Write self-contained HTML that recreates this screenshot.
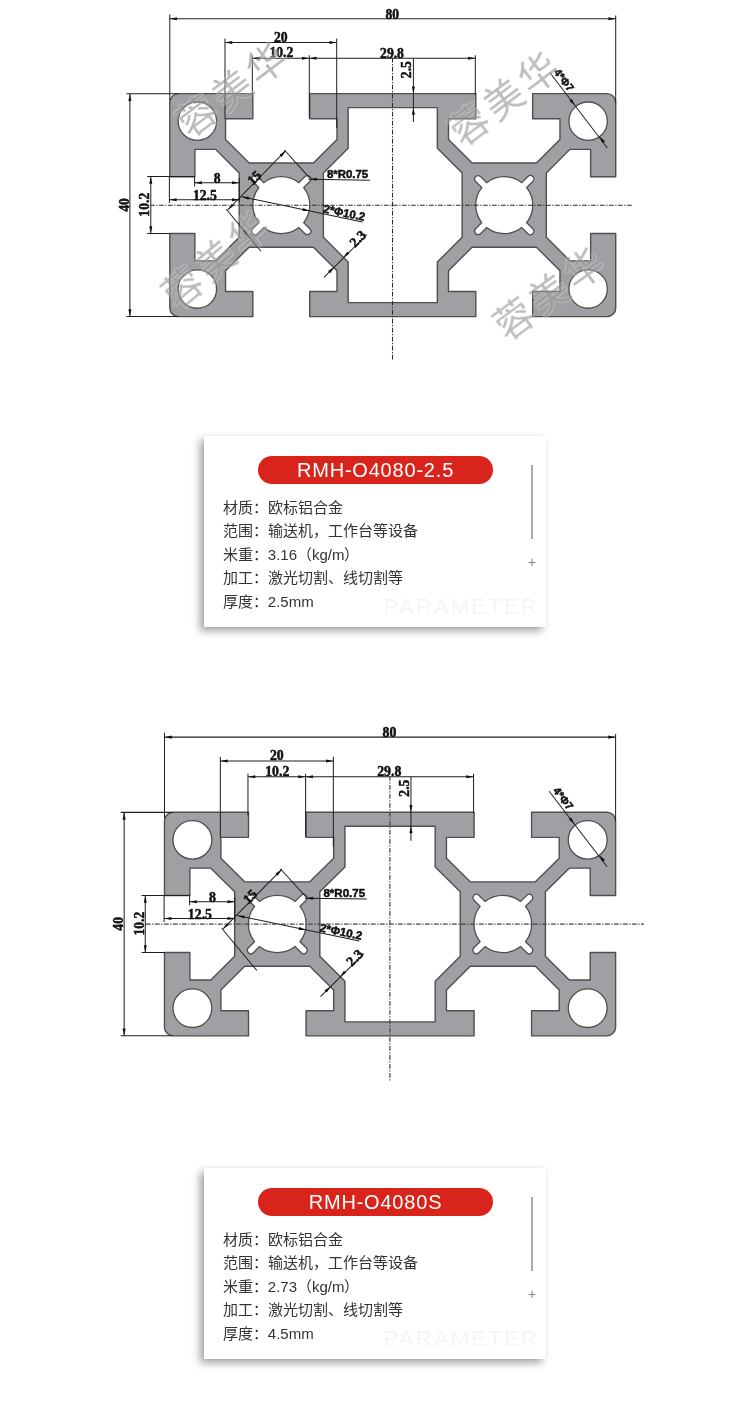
<!DOCTYPE html><html lang="zh-CN"><head><meta charset="utf-8"><style>
html,body{margin:0;padding:0;background:#fff;}
body{width:750px;height:1424px;position:relative;overflow:hidden;font-family:"Liberation Sans",sans-serif;}
svg.main{position:absolute;left:0;top:0;will-change:transform;}
.card{will-change:transform;}
.card{position:absolute;left:204px;width:342px;height:191px;background:#fff;box-shadow:-4px 4px 8px rgba(0,0,0,0.36),0 0 3px rgba(0,0,0,0.06);}
.pill{position:absolute;left:54px;top:20px;width:235px;height:28px;border-radius:14px;background:#d9241b;color:#fff;font-size:20px;line-height:28px;text-align:center;letter-spacing:0.8px;}
.rows{position:absolute;left:18.8px;top:59.7px;font-size:15px;line-height:23.55px;color:#333;}
.vline{position:absolute;left:327px;top:29px;width:2px;height:74px;background:#aaa;}
.plus{position:absolute;left:324px;top:119px;font-size:14px;color:#888;line-height:14px;}
.wm{position:absolute;left:179.5px;top:158px;font-size:22.5px;color:#f5f5f5;line-height:26px;letter-spacing:1.9px;}
</style></head><body><svg class="main" width="750" height="1424" viewBox="0 0 750 1424"><defs><g id="drw"><path d="M-38.45,-20L-25.1,-20L-25.1,-15.5L-30,-15.5L-30,-11.78L-25.77,-7.55L-14.23,-7.55L-10,-11.78L-10,-15.5L-14.9,-15.5L-14.9,-20L14.9,-20L14.9,-15.5L10,-15.5L10,-11.78L14.23,-7.55L25.77,-7.55L30,-11.78L30,-15.5L25.1,-15.5L25.1,-20L38.45,-20A1.55,1.55 0 0 1 40,-18.45L40,-5.1L35.5,-5.1L35.5,-10L31.78,-10L27.55,-5.77L27.55,5.77L31.78,10L35.5,10L35.5,5.1L40,5.1L40,18.45A1.55,1.55 0 0 1 38.45,20L25.1,20L25.1,15.5L30,15.5L30,11.78L25.77,7.55L14.23,7.55L10,11.78L10,15.5L14.9,15.5L14.9,20L-14.9,20L-14.9,15.5L-10,15.5L-10,11.78L-14.23,7.55L-25.77,7.55L-30,11.78L-30,15.5L-25.1,15.5L-25.1,20L-38.45,20A1.55,1.55 0 0 1 -40,18.45L-40,5.1L-35.5,5.1L-35.5,10L-31.78,10L-27.55,5.77L-27.55,-5.77L-31.78,-10L-35.5,-10L-35.5,-5.1L-40,-5.1L-40,-18.45A1.55,1.55 0 0 1 -38.45,-20ZM-8,-17.5 L8,-17.5 L8,-10.22 L12.45,-5.77 L12.45,5.77 L8,10.22 L8,17.5 L-8,17.5 L-8,10.22 L-12.45,5.77 L-12.45,-5.77 L-8,-10.22Z" fill="#9fa0a3" fill-rule="evenodd" stroke="#4f4f51" stroke-width="1.4" vector-effect="non-scaling-stroke" stroke-linejoin="round"/><g fill="#fff" stroke="#4f4f51" stroke-width="1.3"><circle cx="-35.05" cy="-15.05" r="3.45" vector-effect="non-scaling-stroke"/><circle cx="-35.05" cy="15.05" r="3.45" vector-effect="non-scaling-stroke"/><circle cx="35.05" cy="-15.05" r="3.45" vector-effect="non-scaling-stroke"/><circle cx="35.05" cy="15.05" r="3.45" vector-effect="non-scaling-stroke"/><path d="M-15.968,3.155L-14.873,4.25A0.62,0.62 0 0 1 -15.75,5.127L-16.845,4.032A5.12,5.12 0 0 1 -23.155,4.032L-24.25,5.127A0.62,0.62 0 0 1 -25.127,4.25L-24.032,3.155A5.12,5.12 0 0 1 -24.032,-3.155L-25.127,-4.25A0.62,0.62 0 0 1 -24.25,-5.127L-23.155,-4.032A5.12,5.12 0 0 1 -16.845,-4.032L-15.75,-5.127A0.62,0.62 0 0 1 -14.873,-4.25L-15.968,-3.155A5.12,5.12 0 0 1 -15.968,3.155 Z" vector-effect="non-scaling-stroke"/><path d="M24.032,3.155L25.127,4.25A0.62,0.62 0 0 1 24.25,5.127L23.155,4.032A5.12,5.12 0 0 1 16.845,4.032L15.75,5.127A0.62,0.62 0 0 1 14.873,4.25L15.968,3.155A5.12,5.12 0 0 1 15.968,-3.155L14.873,-4.25A0.62,0.62 0 0 1 15.75,-5.127L16.845,-4.032A5.12,5.12 0 0 1 23.155,-4.032L24.25,-5.127A0.62,0.62 0 0 1 25.127,-4.25L24.032,-3.155A5.12,5.12 0 0 1 24.032,3.155 Z" vector-effect="non-scaling-stroke"/></g><g stroke="#1e1e1e" stroke-width="0.18" fill="none"><line x1="-39.998" y1="-33.427" x2="39.998" y2="-33.427"/><line x1="-39.998" y1="-34.216" x2="-39.998" y2="-18.859"/><line x1="39.998" y1="-34.001" x2="39.998" y2="-18.321"/><line x1="-30.095" y1="-29.175" x2="-10.056" y2="-29.175"/><line x1="-30.095" y1="-29.91" x2="-30.095" y2="-15.45"/><line x1="-10.056" y1="-29.91" x2="-10.056" y2="-13.836"/><line x1="-25.197" y1="-26.34" x2="14.81" y2="-26.34"/><line x1="-25.197" y1="-26.878" x2="-25.197" y2="-19.397"/><line x1="-14.971" y1="-26.878" x2="-14.971" y2="-15.63"/><line x1="14.81" y1="-26.878" x2="14.81" y2="-19.756"/><line x1="3.705" y1="-26.358" x2="3.705" y2="-14.894"/><line x1="-47.156" y1="-19.971" x2="-47.156" y2="19.982"/><line x1="-47.766" y1="-19.971" x2="-38.527" y2="-19.971"/><line x1="-47.766" y1="19.982" x2="-38.527" y2="19.982"/><line x1="-43.407" y1="-5.117" x2="-43.407" y2="5.091"/><line x1="-44.053" y1="-5.117" x2="-35.549" y2="-5.117"/><line x1="-44.053" y1="5.091" x2="-39.962" y2="5.091"/><line x1="-35.549" y1="-4.004" x2="-27.53" y2="-4.004"/><line x1="-35.549" y1="-5.117" x2="-35.549" y2="-3.341"/><line x1="-27.53" y1="-4.776" x2="-27.53" y2="-0.47"/><line x1="-40.07" y1="-0.972" x2="-27.53" y2="-0.972"/><line x1="-40.07" y1="-5.117" x2="-40.07" y2="-0.38"/><line x1="-19.205" y1="-9.763" x2="-29.611" y2="0.875"/><line x1="-19.456" y1="-9.889" x2="-14.792" y2="-4.74"/><line x1="-29.862" y1="0.75" x2="-23.637" y2="8.285"/><line x1="-15.115" y1="-4.632" x2="-4.099" y2="-4.471"/><line x1="-27.099" y1="-1.511" x2="-5.445" y2="3.046"/><line x1="-4.638" y1="5.271" x2="-12.334" y2="12.967"/><line x1="28.211" y1="-23.757" x2="38.491" y2="-10.248"/></g><g fill="#111"><polygon points="-39.998,-33.427 -38.698,-33.697 -38.698,-33.157"/><polygon points="39.998,-33.427 38.698,-33.157 38.698,-33.697"/><polygon points="-30.095,-29.175 -28.795,-29.445 -28.795,-28.905"/><polygon points="-10.056,-29.175 -11.356,-28.905 -11.356,-29.445"/><polygon points="-25.197,-26.34 -23.897,-26.61 -23.897,-26.07"/><polygon points="-14.971,-26.34 -16.271,-26.07 -16.271,-26.61"/><polygon points="-14.971,-26.34 -13.671,-26.61 -13.671,-26.07"/><polygon points="14.81,-26.34 13.51,-26.07 13.51,-26.61"/><polygon points="3.705,-19.989 3.435,-21.289 3.975,-21.289"/><polygon points="3.705,-17.531 3.975,-16.231 3.435,-16.231"/><polygon points="-47.156,-19.971 -46.886,-18.671 -47.426,-18.671"/><polygon points="-47.156,19.982 -47.426,18.682 -46.886,18.682"/><polygon points="-43.407,-5.117 -43.137,-3.817 -43.677,-3.817"/><polygon points="-43.407,5.091 -43.677,3.791 -43.137,3.791"/><polygon points="-35.549,-4.004 -34.249,-4.274 -34.249,-3.734"/><polygon points="-27.53,-4.004 -28.83,-3.734 -28.83,-4.274"/><polygon points="-40.07,-0.972 -38.77,-1.242 -38.77,-0.702"/><polygon points="-27.53,-0.972 -28.83,-0.702 -28.83,-1.242"/><polygon points="-19.205,-9.763 -19.919,-8.644 -20.306,-9.021"/><polygon points="-29.611,0.875 -28.897,-0.244 -28.51,0.132"/><polygon points="-14.935,-4.632 -13.633,-4.89 -13.638,-4.35"/><polygon points="-27.099,-1.511 -25.771,-1.503 -25.884,-0.975"/><polygon points="-14.882,1.055 -16.209,1.048 -16.097,0.52"/><polygon points="-8.907,9.451 -8.172,8.346 -7.793,8.73"/><polygon points="-10.486,11.119 -11.222,12.225 -11.601,11.84"/><polygon points="32.696,-17.854 31.694,-18.725 32.124,-19.052"/><polygon points="37.11,-12.329 38.11,-11.456 37.68,-11.13"/></g><g fill="#111" stroke="#111" stroke-width="0.09" font-family="Liberation Sans, sans-serif" font-weight="bold"><text x="-0.099" y="-33.373" font-size="2.45" font-family="Liberation Serif, serif" text-anchor="middle">80</text><text x="-20.084" y="-29.282" font-size="2.45" font-family="Liberation Serif, serif" text-anchor="middle">20</text><text x="-19.995" y="-26.502" font-size="2.45" font-family="Liberation Serif, serif" text-anchor="middle">10.2</text><text x="-0.135" y="-26.394" font-size="2.45" font-family="Liberation Serif, serif" text-anchor="middle">29.8</text><text x="3.328" y="-24.313" font-size="2.45" font-family="Liberation Serif, serif" text-anchor="middle" transform="rotate(-90 3.328 -24.313)">2.5</text><text x="-47.354" y="-0.039" font-size="2.45" font-family="Liberation Serif, serif" text-anchor="middle" transform="rotate(-90 -47.354 -0.039)">40</text><text x="-43.694" y="-0.075" font-size="2.45" font-family="Liberation Serif, serif" text-anchor="middle" transform="rotate(-90 -43.694 -0.075)">10.2</text><text x="-31.494" y="-4.004" font-size="2.45" font-family="Liberation Serif, serif" text-anchor="middle">8</text><text x="-33.719" y="-0.954" font-size="2.45" font-family="Liberation Serif, serif" text-anchor="middle">12.5</text><text x="-24.247" y="-4.327" font-size="2.45" font-family="Liberation Serif, serif" text-anchor="middle" transform="rotate(-45 -24.247 -4.327)">15</text><text x="-8.118" y="-4.865" font-size="2.05" font-family="Liberation Sans, sans-serif" text-anchor="middle">8*R0.75</text><text x="-8.836" y="2.06" font-size="2.05" font-family="Liberation Sans, sans-serif" text-anchor="middle" transform="rotate(11.8 -8.836 2.06)">2*Φ10.2</text><text x="-5.696" y="6.598" font-size="2.45" font-family="Liberation Serif, serif" text-anchor="middle" transform="rotate(-45 -5.696 6.598)">2.3</text><text x="30.185" y="-22.034" font-size="1.95" font-family="Liberation Sans, sans-serif" text-anchor="middle" transform="rotate(52.5 30.185 -22.034)">4*Φ7</text></g></g></defs><use href="#drw" transform="translate(392.75,205.12) scale(5.574)"/><use href="#drw" transform="translate(390.05,924.05) scale(5.639,5.592)"/><g stroke="#2a2a2a" stroke-width="1.05" fill="none" stroke-dasharray="4.7 1.5 1.3 1.5"><line x1="150" y1="205.3" x2="633.3" y2="205.3"/><line x1="392.5" y1="57.8" x2="392.5" y2="360.4"/></g><g stroke="#444" stroke-width="1.2" fill="none" stroke-dasharray="4.7 1.5 1.3 1.5"><line x1="146" y1="924.1" x2="644" y2="924.1"/><line x1="389.9" y1="776.1" x2="389.9" y2="1080.7"/></g><filter id="thin" x="-10%" y="-10%" width="120%" height="120%"><feMorphology in="SourceAlpha" operator="dilate" radius="0.9" result="d"/><feFlood flood-color="#fff" flood-opacity="0.45"/><feComposite in2="d" operator="in" result="halo"/><feOffset in="SourceGraphic" dx="0" dy="0" result="e"/><feMerge><feMergeNode in="halo"/><feMergeNode in="e"/></feMerge></filter><g filter="url(#thin)" font-size="39" letter-spacing="4" fill="rgba(120,120,120,0.55)" font-family="Liberation Serif, serif"><text x="233.6" y="89.3" text-anchor="middle" dominant-baseline="central" transform="rotate(-37 233.6 89.3)">蓉美华</text><text x="505.0" y="98.3" text-anchor="middle" dominant-baseline="central" transform="rotate(-37 505.0 98.3)">蓉美华</text><text x="217.0" y="259.5" text-anchor="middle" dominant-baseline="central" transform="rotate(-40 217.0 259.5)">蓉美华</text><text x="550.0" y="293.0" text-anchor="middle" dominant-baseline="central" transform="rotate(-36 550.0 293.0)">蓉美华</text></g></svg><div class="card" style="top:436px"><div class="pill">RMH-O4080-2.5</div><div class="vline"></div><div class="plus">+</div><div class="wm">PARAMETER</div><div class="rows"><div>材质：欧标铝合金</div><div>范围：输送机，工作台等设备</div><div>米重：3.16（kg/m）</div><div>加工：激光切割、线切割等</div><div>厚度：2.5mm</div></div></div><div class="card" style="top:1168px"><div class="pill">RMH-O4080S</div><div class="vline"></div><div class="plus">+</div><div class="wm">PARAMETER</div><div class="rows"><div>材质：欧标铝合金</div><div>范围：输送机，工作台等设备</div><div>米重：2.73（kg/m）</div><div>加工：激光切割、线切割等</div><div>厚度：4.5mm</div></div></div></body></html>
